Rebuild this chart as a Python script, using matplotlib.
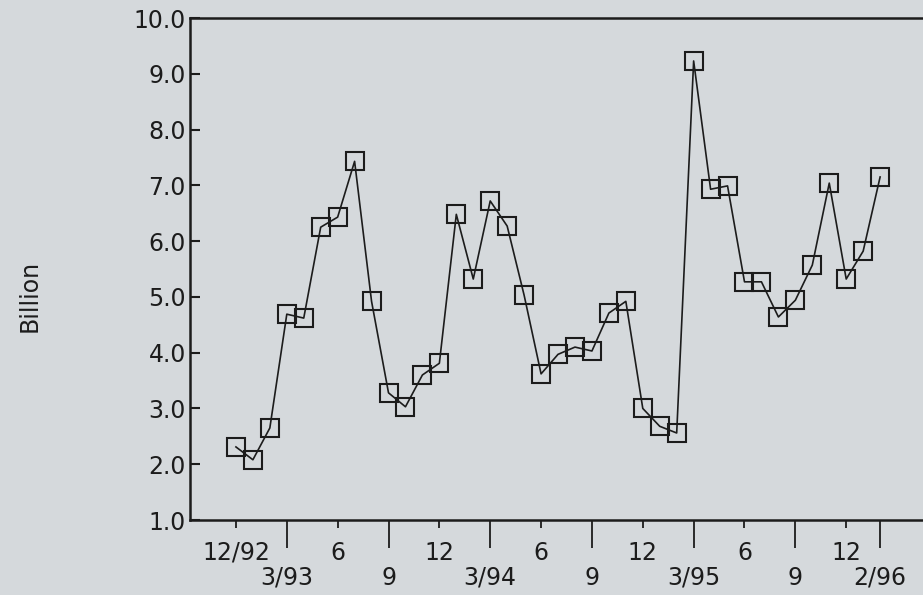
import numpy as np
import matplotlib
matplotlib.use('Agg')
import matplotlib.pyplot as plt

plt.rc('font', family='DejaVu Sans')

# monthly values, 12/92 .. 2/96 (billion)
values = [2.31, 2.08, 2.65, 4.69, 4.62, 6.25, 6.43, 7.43, 4.92, 3.28,
          3.03, 3.60, 3.81, 6.48, 5.32, 6.72, 6.27, 5.03, 3.62, 3.97,
          4.10, 4.03, 4.71, 4.92, 3.00, 2.68, 2.56, 9.23, 6.93, 6.99,
          5.27, 5.27, 4.64, 4.94, 5.57, 7.04, 5.32, 5.82, 7.15]

# tick positions are month offsets from 12/92
upper_ticks = [0, 6, 12, 18, 24, 30, 36]
upper_labels = ['12/92', '6', '12', '6', '12', '6', '12']
lower_ticks = [3, 9, 15, 21, 27, 33, 38]
lower_labels = ['3/93', '9', '3/94', '9', '3/95', '9', '2/96']

y_ticks = [1.0, 2.0, 3.0, 4.0, 5.0, 6.0, 7.0, 8.0, 9.0, 10.0]

bg = '#d5d9dc'
ink = '#1c1c1c'
W, H = 923, 595

fig = plt.figure(figsize=(W / 100, H / 100), dpi=100, facecolor=bg)
ax = fig.add_axes([190 / W, 75 / H, 733 / W, 502 / H], facecolor=bg)

months = np.arange(len(values))
ax.plot(months, values, color=ink, lw=1.2, marker='s',
        markersize=13, markerfacecolor='none', markeredgecolor=ink,
        markeredgewidth=1.5)

ax.set_xlim(-2.71, 40.53)
ax.set_ylim(1.0, 10.0)

for side in ['top', 'left', 'bottom']:
    ax.spines[side].set_linewidth(1.8)
    ax.spines[side].set_color(ink)
ax.spines['right'].set_visible(False)

ax.set_yticks(y_ticks)
ax.set_yticklabels(['%.1f' % v for v in y_ticks])
ax.tick_params(axis='y', direction='in', length=7, width=1.5,
               labelsize=17, pad=3, colors=ink)

ax.set_xticks(upper_ticks)
ax.set_xticklabels(upper_labels)
ax.set_xticks(lower_ticks, minor=True)
ax.set_xticklabels(lower_labels, minor=True)
ax.tick_params(axis='x', which='major', direction='out', length=6,
               width=1.3, labelsize=17, pad=9, colors=ink)
ax.tick_params(axis='x', which='minor', direction='out', length=20,
               width=1.3, labelsize=17, pad=13, colors=ink)

ax.set_ylabel('Billion', fontsize=17, color=ink)
ax.yaxis.set_label_coords(-0.202, 0.446)

fig.savefig('out.png', dpi=100, facecolor=bg)
